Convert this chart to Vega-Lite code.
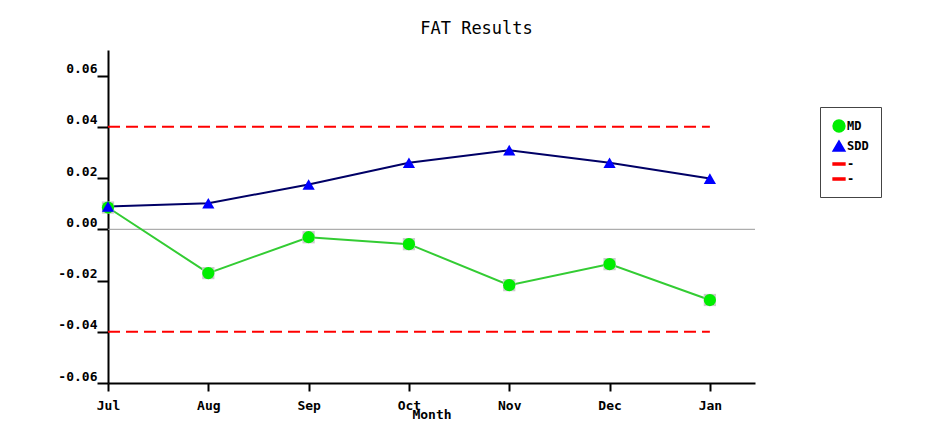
{
  "$schema": "https://vega.github.io/schema/vega-lite/v6.json",
  "autosize": "none",
  "width": 647,
  "height": 333,
  "padding": {"left": 108, "top": 50, "right": 189, "bottom": 41},
  "background": "white",
  "title": {
    "text": "FAT Results",
    "font": "DejaVu Sans Mono",
    "fontSize": 17,
    "fontWeight": "normal",
    "color": "black",
    "anchor": "middle",
    "dx": 45,
    "offset": 12
  },
  "config": {
    "view": {"stroke": null},
    "axis": {
      "labelFont": "DejaVu Sans Mono",
      "labelFontWeight": "bold",
      "labelFontSize": 13,
      "labelColor": "black",
      "titleFont": "DejaVu Sans Mono",
      "titleFontWeight": "bold",
      "titleFontSize": 13,
      "titleColor": "black",
      "domainColor": "black",
      "domainWidth": 2,
      "tickColor": "black",
      "tickWidth": 2,
      "grid": false
    }
  },
  "datasets": {
    "results": [
      {"month": "Jul", "idx": 0, "series": "MD", "value": 0.0085},
      {"month": "Aug", "idx": 1, "series": "MD", "value": -0.0171},
      {"month": "Sep", "idx": 2, "series": "MD", "value": -0.0031},
      {"month": "Oct", "idx": 3, "series": "MD", "value": -0.0058},
      {"month": "Nov", "idx": 4, "series": "MD", "value": -0.0218},
      {"month": "Dec", "idx": 5, "series": "MD", "value": -0.0136},
      {"month": "Jan", "idx": 6, "series": "MD", "value": -0.0276},
      {"month": "Jul", "idx": 0, "series": "SDD", "value": 0.0089},
      {"month": "Aug", "idx": 1, "series": "SDD", "value": 0.0102},
      {"month": "Sep", "idx": 2, "series": "SDD", "value": 0.0175},
      {"month": "Oct", "idx": 3, "series": "SDD", "value": 0.026},
      {"month": "Nov", "idx": 4, "series": "SDD", "value": 0.0309},
      {"month": "Dec", "idx": 5, "series": "SDD", "value": 0.026},
      {"month": "Jan", "idx": 6, "series": "SDD", "value": 0.0198}
    ],
    "limits": [
      {"series": "UCL", "value": 0.04, "start": 0, "end": 6},
      {"series": "LCL", "value": -0.04, "start": 0, "end": 6}
    ],
    "zero": [
      {"value": 0, "start": 0, "end": 6.45}
    ]
  },
  "layer": [
    {
      "data": {"name": "zero"},
      "mark": {"type": "rule", "color": "#999999", "strokeWidth": 1},
      "encoding": {
        "x": {"field": "start", "type": "quantitative"},
        "x2": {"field": "end"},
        "y": {"field": "value", "type": "quantitative"}
      }
    },
    {
      "data": {"name": "limits"},
      "mark": {"type": "rule", "strokeWidth": 2, "strokeDash": [12, 6]},
      "encoding": {
        "x": {"field": "start", "type": "quantitative"},
        "x2": {"field": "end"},
        "y": {"field": "value", "type": "quantitative"},
        "color": {"field": "series", "type": "nominal"}
      }
    },
    {
      "data": {"name": "results"},
      "mark": {"type": "line", "strokeWidth": 2},
      "encoding": {
        "x": {"field": "idx", "type": "quantitative"},
        "y": {"field": "value", "type": "quantitative"},
        "detail": {"field": "series"},
        "stroke": {
          "field": "series", "type": "nominal",
          "scale": {"domain": ["MD", "SDD"], "range": ["#33cc33", "#000066"]},
          "legend": null
        }
      }
    },
    {
      "data": {"name": "results"},
      "transform": [{"filter": "datum.series == 'MD'"}],
      "mark": {"type": "point", "shape": "square", "filled": true, "color": "#cccccc", "size": 150, "opacity": 1},
      "encoding": {
        "x": {"field": "idx", "type": "quantitative"},
        "y": {"field": "value", "type": "quantitative"}
      }
    },
    {
      "data": {"name": "results"},
      "mark": {"type": "point", "filled": true, "opacity": 1, "size": 150},
      "encoding": {
        "x": {
          "field": "idx", "type": "quantitative",
          "scale": {"domain": [0, 6.45], "nice": false, "zero": false},
          "axis": {
            "values": [0, 1, 2, 3, 4, 5, 6],
            "labelExpr": "['Jul','Aug','Sep','Oct','Nov','Dec','Jan'][datum.value]",
            "title": "Month",
            "tickSize": 8,
            "labelPadding": 8,
            "titlePadding": -4,
            "labelFlush": false
          }
        },
        "y": {
          "field": "value", "type": "quantitative",
          "scale": {"domain": [-0.06, 0.07], "nice": false, "zero": false},
          "axis": {
            "values": [-0.06, -0.04, -0.02, 0, 0.02, 0.04, 0.06],
            "labelExpr": "replace(format(datum.value, '.2f'), '\u2212', '-')",
            "title": null,
            "tickSize": 11,
            "labelPadding": 0,
            "labelBaseline": "bottom",
            "labelFlush": false
          }
        },
        "color": {
          "field": "series", "type": "nominal",
          "scale": {"domain": ["MD", "SDD", "UCL", "LCL"], "range": ["#00ee00", "#0000ff", "#ff0000", "#ff0000"]},
          "legend": {
            "title": null,
            "orient": "none",
            "legendX": 712,
            "legendY": 57,
            "padding": 12,
            "strokeColor": "#444444",
            "fillColor": "white",
            "labelFont": "DejaVu Sans Mono",
            "labelFontWeight": "bold",
            "labelFontSize": 12,
            "labelColor": "black",
            "labelOffset": 1,
            "symbolSize": 140,
            "rowPadding": 2,
            "labelExpr": "datum.value == 'UCL' || datum.value == 'LCL' ? '-' : datum.label"
          }
        },
        "shape": {
          "field": "series", "type": "nominal",
          "scale": {"domain": ["MD", "SDD", "UCL", "LCL"], "range": ["circle", "triangle-up", "M-1,-0.18H1V0.18H-1Z", "M-1,-0.18H1V0.18H-1Z"]},
          "legend": {
            "title": null,
            "orient": "none",
            "legendX": 712,
            "legendY": 57,
            "labelExpr": "datum.value == 'UCL' || datum.value == 'LCL' ? '-' : datum.label"
          }
        }
      }
    }
  ]
}
